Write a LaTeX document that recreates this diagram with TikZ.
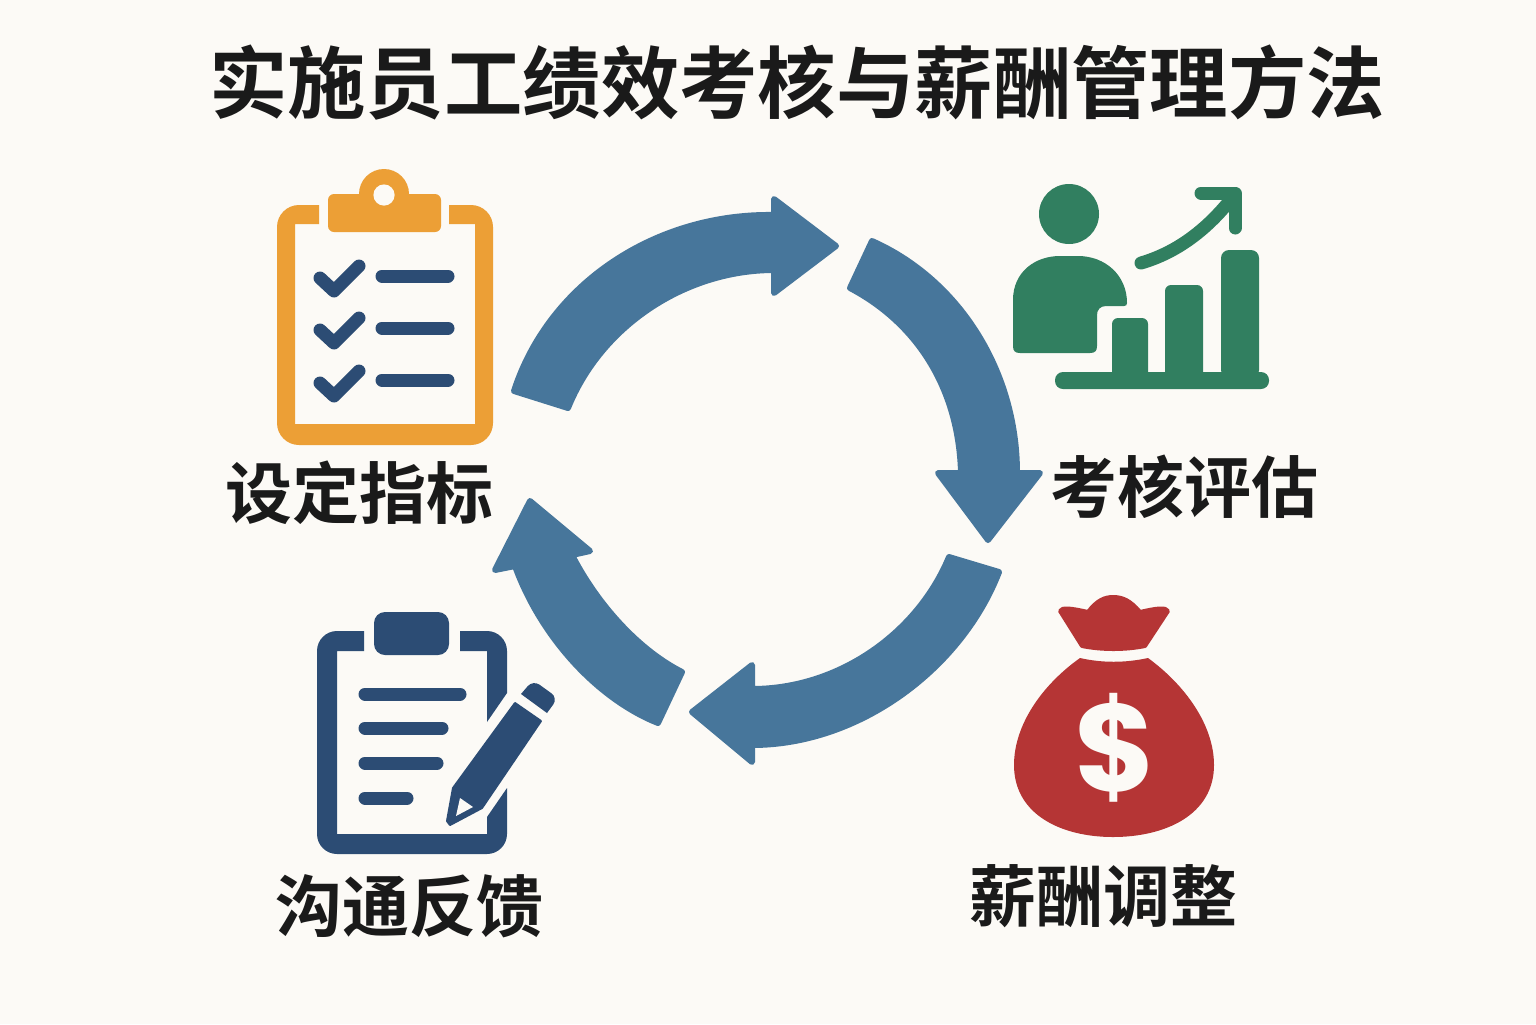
\documentclass[tikz,border=0pt]{standalone}
\usepackage{fontspec}
\setmainfont{Liberation Sans}
\newfontfamily\cjk{Noto Sans CJK SC}[BoldFont={Noto Sans CJK SC Bold}]
\newfontfamily\heavyfont{Poppins}[BoldFont={Poppins Bold}]
\definecolor{bgc}{HTML}{FCFAF6}
\definecolor{arrowc}{HTML}{47769B}
\definecolor{orangec}{HTML}{EC9F36}
\definecolor{navyc}{HTML}{2C4C74}
\definecolor{greenc}{HTML}{317F60}
\definecolor{redc}{HTML}{B53535}
\definecolor{inkc}{HTML}{1A1A1A}
\tikzset{
  cyc/.style={fill=arrowc,draw=arrowc,line width=3pt,line join=round},
  titletext/.style={font=\cjk\bfseries\fontsize{39.2pt}{44pt}\selectfont,text=inkc,inner sep=0pt},
  labeltext/.style={font=\cjk\bfseries\fontsize{33.5pt}{38pt}\selectfont,text=inkc,inner sep=0pt},
  bar/.style={line width=6.5pt,line cap=round,draw=navyc},
  chk/.style={line width=6.5pt,line cap=round,line join=round,draw=navyc},
}
\begin{document}
\begin{tikzpicture}[x=0.5pt,y=-0.5pt]
\useasboundingbox (0,0) rectangle (1536,1024);
\fill[bgc] (0,0) rectangle (1536,1024);
\node[titletext] (title) at (797,83) {实施员工绩效考核与薪酬管理方法};
% cycle arrows
\draw[cyc] (514,391) .. controls (549,283) and (656,213) .. (774,215) -- (774,199) -- (836,246) -- (774,293) -- (774,270) .. controls (685,270) and (601,326) .. (568,408) -- cycle;
\draw[cyc] (872,241) .. controls (960,280) and (1017,372) .. (1017,473) -- (1040,473) -- (988,540) -- (938,473) -- (961,473) .. controls (959,392) and (920,325) .. (850,288) -- cycle;
\draw[cyc] (999,572) .. controls (962,668) and (860,745) .. (752,745) -- (752,762) -- (692,712) -- (752,665) -- (752,689) .. controls (840,689) and (918,632) .. (949,557) -- cycle;
\draw[cyc] (658,723) .. controls (600,700) and (542,640) .. (515,566) -- (495,570) -- (530,501) -- (590,551) -- (572,555) .. controls (595,600) and (635,648) .. (682,672) -- cycle;
% clipboard
\fill[orangec] (319,205) [rounded corners=11pt] -- (277,205) -- (277,445) -- (493,445) -- (493,205) [sharp corners] -- (449,205) -- (449,224) -- (475,224) -- (475,424) -- (295,424) -- (295,224) -- (319,224) -- cycle;
\fill[orangec,rounded corners=3pt] (328,194) rectangle (441,232);
\fill[orangec] (384,194) circle[radius=12.5pt];
\fill[bgc] (384,195) circle[radius=5.3pt];
\foreach \dy in {0,52,105}{
  \draw[chk] (320,{278+\dy}) -- (334,{291+\dy}) -- (359,{266+\dy});
}
\draw[bar] (382,276) -- (448,276);
\draw[bar] (382,328) -- (448,328);
\draw[bar] (382,380) -- (448,380);
\node[labeltext] (lab1) at (359,493) {设定指标};
% person and chart
\fill[greenc] (1069,214) circle[radius=15pt];
\fill[greenc] (1013,300) .. controls (1013,272) and (1035,256) .. (1060,256) -- (1078,256) .. controls (1105,256) and (1127,275) .. (1127,303) .. controls (1127,305) and (1126,306) .. (1124,306) -- (1106,306) .. controls (1100,306) and (1097,310) .. (1097,315) -- (1097,346) .. controls (1097,351) and (1095,353) .. (1090,353) -- (1020,353) .. controls (1015,353) and (1013,351) .. (1013,346) -- cycle;
\fill[greenc,rounded corners=3pt] (1112,378) rectangle (1148,318);
\fill[greenc,rounded corners=3pt] (1165,378) rectangle (1203,285);
\fill[greenc,rounded corners=4pt] (1221,378) rectangle (1259,250);
\fill[greenc,rounded corners=4pt] (1055,372) rectangle (1269,389);
\draw[greenc,line width=6.5pt,line cap=round,line join=round] (1141,263) .. controls (1175,253) and (1205,232) .. (1232,198);
\draw[greenc,line width=6.5pt,line cap=round,line join=round] (1201,193) -- (1235,193) -- (1235,228);
\node[labeltext] (lab2) at (1184,487) {考核评估};
% feedback clipboard
\fill[navyc] (364,631) [rounded corners=10pt] -- (317,631) -- (317,854) -- (507,854) [sharp corners] -- (507,788) -- (487,817) -- (487,834) -- (337,834) -- (337,651) -- (364,651) -- cycle;
\fill[navyc] (460,651) -- (460,631) [rounded corners=10pt] -- (507,631) [sharp corners] -- (507,693) -- (487,722) -- (487,651) -- cycle;
\fill[navyc,rounded corners=5.5pt] (374,612) rectangle (449,655);
\draw[bar] (365,694) -- (460,694);
\draw[bar] (365,728) -- (442,728);
\draw[bar] (365,763) -- (437,763);
\draw[bar] (365,798) -- (407,798);
\fill[navyc,draw=navyc,line width=1pt,line join=round] (515,703) -- (541,721) -- (482,808) -- (450,825) -- (447,821) -- (453,788) -- cycle;
\fill[bgc] (460,798) -- (473,807) -- (456,816) -- cycle;
\fill[navyc] (521,694) [rounded corners=4pt] -- (533,680) -- (558,698) [sharp corners] -- (547,713) -- cycle;
\node[labeltext] (lab3) at (409,906) {沟通反馈};
% money bag
\fill[redc,draw=redc,line width=2pt,line join=round] (1060,611) .. controls (1062,607) and (1070,608) .. (1088,612) .. controls (1097,600) and (1105,597) .. (1113,597) .. controls (1122,597) and (1130,600) .. (1140,612) .. controls (1157,608) and (1166,607) .. (1168,611) -- (1145,646) .. controls (1125,650) and (1102,650) .. (1082,646) -- cycle;
\fill[redc] (1080,658) .. controls (1102,663) and (1125,663) .. (1148,658) .. controls (1185,685) and (1214,725) .. (1214,765) .. controls (1214,815) and (1165,837) .. (1113,837) .. controls (1062,837) and (1014,815) .. (1014,765) .. controls (1014,725) and (1042,685) .. (1080,658) -- cycle;
\node[font=\heavyfont\bfseries\fontsize{62pt}{64pt}\selectfont,text=bgc,inner sep=0pt] (dollar) at (1115,748) {\$};
\node[labeltext] (lab4) at (1103,896) {薪酬调整};
\end{tikzpicture}
\end{document}
